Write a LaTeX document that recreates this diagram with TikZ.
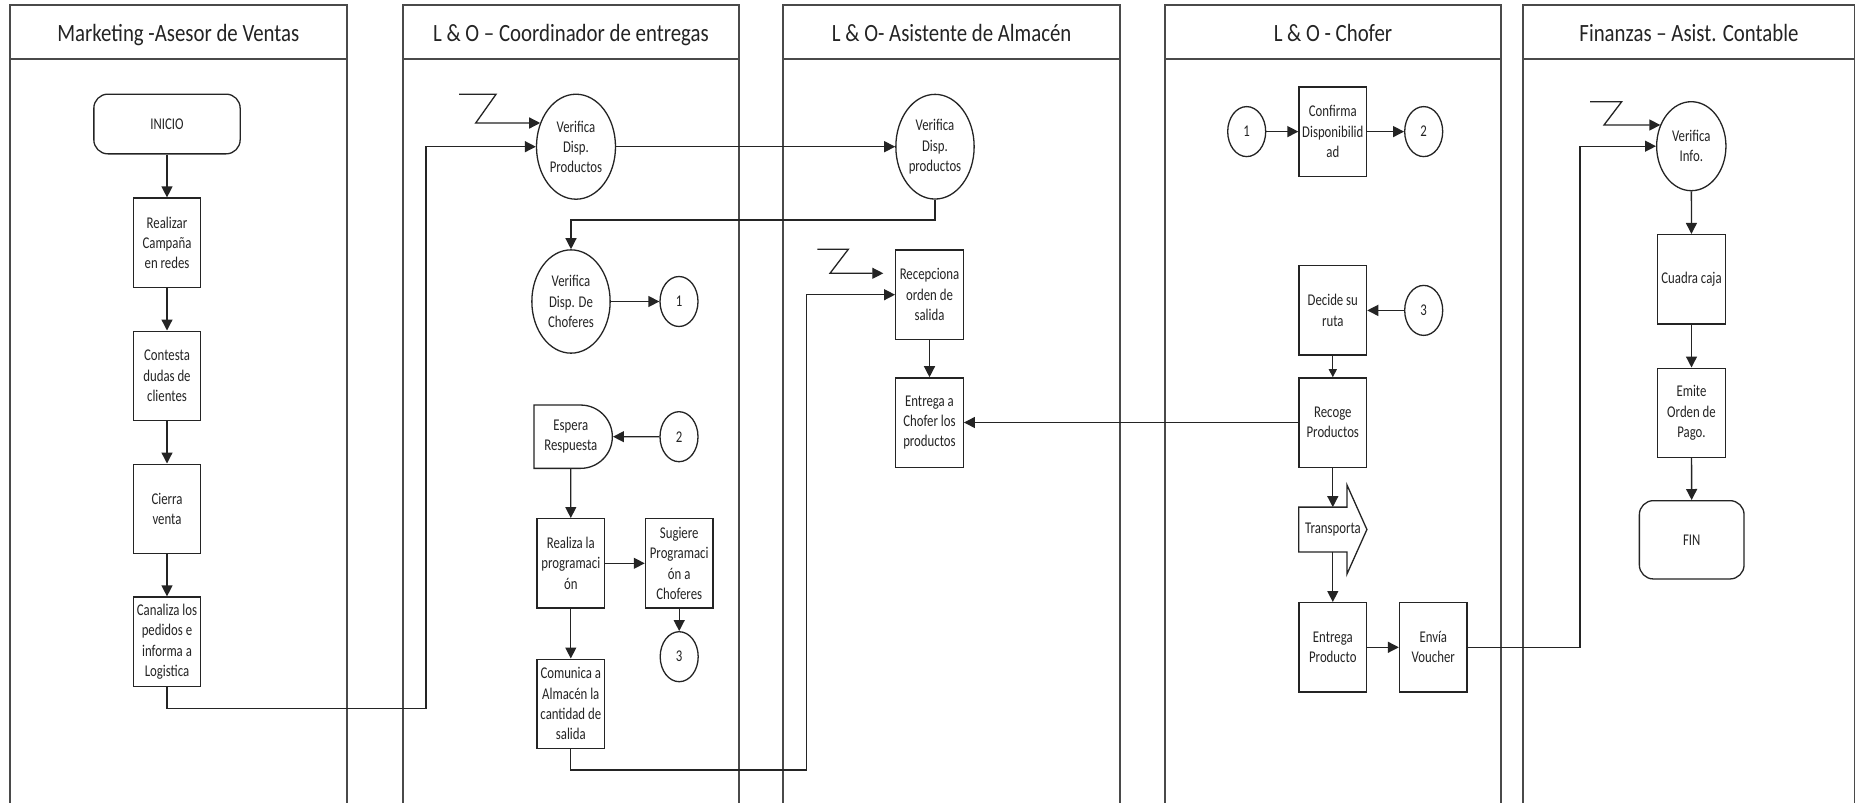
\documentclass[tikz,border=0pt]{standalone}
\usepackage{fontspec}
\setmainfont{Carlito}[FakeStretch=0.78]
\newfontfamily\headfont{Carlito}[FakeStretch=0.84]
\usetikzlibrary{arrows.meta,shapes.geometric,shapes.misc,calc}
\definecolor{ink}{HTML}{242424}
\definecolor{lanegray}{HTML}{4A4A4A}
\newcommand\flowtext{\fontsize{16.4}{20.3}\selectfont}
\begin{document}
\begin{tikzpicture}[x=1pt,y=-1pt,
  lane/.style={draw=lanegray,line width=1.8pt},
  hdr/.style={font=\headfont\fontsize{24.8}{30}\selectfont,text=ink,anchor=base,inner sep=0pt},
  proc/.style={draw=ink,line width=1.3pt,fill=white,rectangle,minimum width=67.6pt,minimum height=89.3pt,inner sep=0pt,align=center,font=\flowtext,text=ink},
  oval/.style={draw=ink,line width=1.3pt,fill=white,ellipse,inner sep=0pt,align=center,font=\flowtext,text=ink},
  conn/.style={oval,minimum width=38pt,minimum height=50pt},
  term/.style={draw=ink,line width=1.3pt,fill=white,rectangle,rounded corners=14pt,inner sep=0pt,align=center,font=\flowtext,text=ink},
  flow/.style={draw=ink,line width=1.3pt,-{Triangle[length=11pt,width=11pt]}},
  wire/.style={draw=ink,line width=1.3pt},
]
\fill[white] (0,0) rectangle (1856,803);
\useasboundingbox (0,0) rectangle (1856,803);

% swimlanes
\draw[lane] (9.9,803) -- (9.9,5) -- (346.8,5) -- (346.8,803) (9.9,59) -- (346.8,59);
\draw[lane] (402.7,803) -- (402.7,5) -- (739,5) -- (739,803) (402.7,59) -- (739,59);
\draw[lane] (783.3,803) -- (783.3,5) -- (1120,5) -- (1120,803) (783.3,59) -- (1120,59);
\draw[lane] (1165,803) -- (1165,5) -- (1501,5) -- (1501,803) (1165,59) -- (1501,59);
\draw[lane] (1523.3,803) -- (1523.3,5) -- (1854.5,5) -- (1854.5,803) (1523.3,59) -- (1854.5,59);
\node[hdr] (h1) at (178.3,41) {Marketing -Asesor de Ventas};
\node[hdr] (h2) at (570.9,41) {L \& O – Coordinador de entregas};
\node[hdr] (h3) at (951.7,41) {L \& O- Asistente de Almacén};
\node[hdr] (h4) at (1333,41) {L \& O - Chofer};
\node[hdr] (h5) at (1689,41) {Finanzas – Asist. Contable};

% Marketing - Asesor de Ventas
\node[term,minimum width=146.3pt,minimum height=59.7pt] (inicio) at (167,124) {INICIO};
\node[proc] (realizar) at (167,242.7) {Realizar\\Campaña\\en redes};
\node[proc] (contesta) at (167,375.8) {Contesta\\dudas de\\clientes};
\node[proc] (cierra) at (167,508.8) {Cierra\\venta};
\node[proc] (canaliza) at (167,641.7) {Canaliza los\\pedidos e\\informa a\\Logistica};

% L & O - Coordinador de entregas
\node[oval,minimum width=79pt,minimum height=105pt] (vp1) at (576,146.7) {Verifica\\Disp.\\Productos};
\node[oval,minimum width=78.3pt,minimum height=103.3pt] (vc) at (571,301.5) {Verifica\\Disp. De\\Choferes};
\node[conn] (ca1) at (679,301.5) {1};
\node[draw=ink,line width=1.3pt,fill=white,rounded rectangle,rounded rectangle left arc=none,minimum width=78.3pt,minimum height=63.3pt,inner sep=0pt,align=center,font=\flowtext,text=ink] (espera) at (570.8,436.7) {Espera\\Respuesta};
\node[conn] (ca2) at (679,436.7) {2};
\node[proc] (realiza) at (570.8,563.3) {Realiza la\\programaci\\ón};
\node[proc] (sugiere) at (679.2,563.3) {Sugiere\\Programaci\\ón a\\Choferes};
\node[conn] (ca3) at (679.2,656.7) {3};
\node[proc] (comunica) at (570.8,703.8) {Comunica a\\Almacén la\\cantidad de\\salida};

% L & O - Asistente de Almacen
\node[oval,minimum width=78.3pt,minimum height=104.7pt] (vp2) at (935,146.7) {Verifica\\Disp.\\productos};
\node[proc] (recep) at (929.5,294.7) {Recepciona\\orden de\\salida};
\node[proc] (entrega) at (929.5,422.5) {Entrega a\\Chofer los\\productos};

% L & O - Chofer
\node[conn] (cb1) at (1246.7,131.6) {1};
\node[proc] (confirma) at (1332.8,131.6) {Confirma\\Disponibilid\\ad};
\node[conn] (cb2) at (1423.7,131.6) {2};
\node[proc] (decide) at (1332.8,310.4) {Decide su\\ruta};
\node[conn] (cb3) at (1423.7,310.4) {3};
\node[proc] (recoge) at (1332.8,422.5) {Recoge\\Productos};
\node[inner sep=0pt,minimum width=47.7pt,minimum height=44.4pt] (trans) at (1322.85,529.5) {};
\draw[ink,line width=1.3pt,fill=white] (trans.north west) -- (trans.north east) -- ++(0,-22.3) -- ($(trans.east)+(20,0)$) -- ($(trans.south east)+(0,22.3)$) -- (trans.south east) -- (trans.south west) -- cycle;
\node[font=\flowtext,text=ink,inner sep=0pt] (transtxt) at (1333,529.5) {Transporta};
\node[proc] (entregap) at (1332.8,647.3) {Entrega\\Producto};
\node[proc] (envia) at (1433.3,647.3) {Envía\\Voucher};

% Finanzas - Asist. Contable
\node[oval,minimum width=69.3pt,minimum height=89pt] (vi) at (1691.3,146.2) {Verifica\\Info.};
\node[proc] (cuadra) at (1691.5,279.2) {Cuadra caja};
\node[proc] (emite) at (1691.5,412.8) {Emite\\Orden de\\Pago.};
\node[term,minimum width=104.7pt,minimum height=78.3pt] (fin) at (1691.7,539.8) {FIN};

% connectors
\draw[flow] (inicio) -- (realizar);
\draw[flow] (realizar) -- (contesta);
\draw[flow] (contesta) -- (cierra);
\draw[flow] (cierra) -- (canaliza);
\coordinate (k1) at (425.9,708.3);
\draw[flow] (canaliza.south) |- (k1) -- (k1 |- vp1.west) -- (vp1.west);

\coordinate (za1) at (459,94.3);
\coordinate (za2) at (496,94.3);
\coordinate (za3) at (475.7,123);
\draw[flow] (za1) -- (za2) -- (za3) -- (za3 -| vp1.146);

\draw[flow] (vp1.east) -- (vp2.west);
\coordinate (k2) at (571,220);
\draw[flow] (vp2.south) |- (k2) -- (vc.north);
\draw[flow] (vc) -- (ca1);
\draw[flow] (ca2) -- (espera);
\draw[flow] (espera) -- (realiza);
\draw[flow] (realiza) -- (sugiere);
\draw[flow] (sugiere) -- (ca3);
\draw[flow] (realiza) -- (comunica);
\coordinate (k3) at (806.7,770);
\draw[flow] (comunica.south) |- (k3) -- (k3 |- recep.west) -- (recep.west);

\coordinate (zb1) at (817.3,249.3);
\coordinate (zb2) at (848.3,249.3);
\coordinate (zb3) at (830,273.3);
\coordinate (zb4) at (883.3,273.3);
\draw[flow] (zb1) -- (zb2) -- (zb3) -- (zb4);

\draw[flow] (recep) -- (entrega);
\draw[flow] (recoge) -- (entrega);
\draw[flow] (cb1) -- (confirma);
\draw[flow] (confirma) -- (cb2);
\draw[flow] (cb3) -- (decide);
\draw[draw=ink,line width=1.3pt,-{Triangle[length=8pt,width=8pt]}] (decide) -- (recoge);
\draw[flow] (recoge.south) -- (recoge.south |- trans.north);
\draw[flow] (entregap.north |- trans.south) -- (entregap.north);
\draw[flow] (entregap) -- (envia);
\coordinate (k4) at (1580,647.3);
\draw[flow] (envia.east) -- (k4) -- (k4 |- vi.west) -- (vi.west);

\coordinate (zc1) at (1590,101.7);
\coordinate (zc2) at (1621.7,101.7);
\coordinate (zc3) at (1604,125);
\draw[flow] (zc1) -- (zc2) -- (zc3) -- (zc3 -| vi.145);

\draw[flow] (vi) -- (cuadra);
\draw[flow] (cuadra) -- (emite);
\draw[flow] (emite) -- (fin);
\end{tikzpicture}
\end{document}
